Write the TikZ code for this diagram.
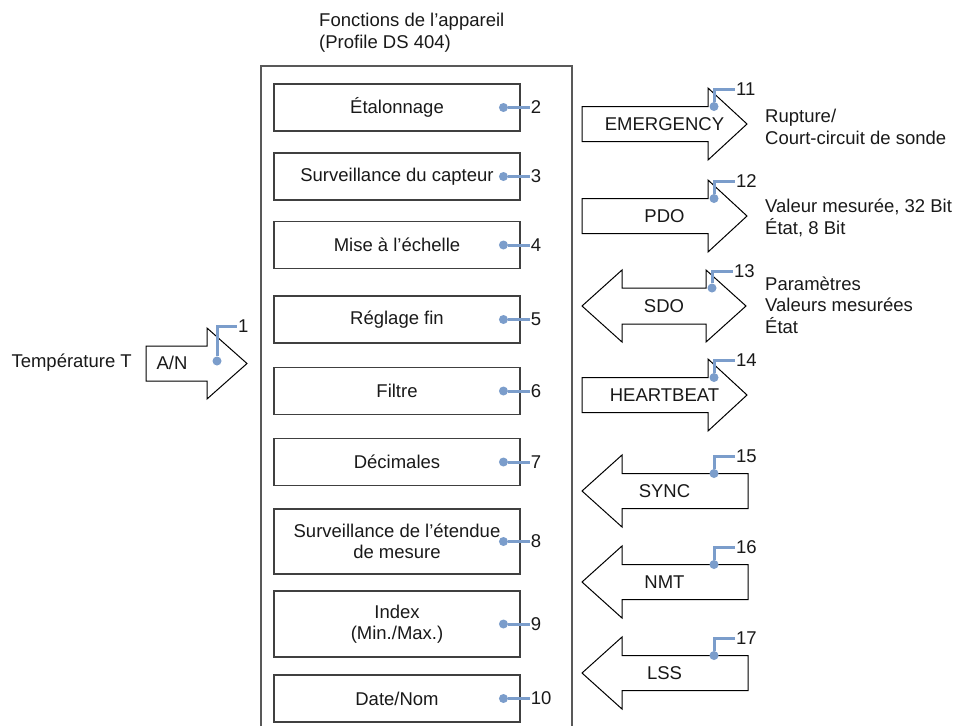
\documentclass[tikz,border=0pt]{standalone}
\usepackage{fontspec}
\setmainfont{Liberation Sans}
\usepackage{tikz}
\usetikzlibrary{positioning}
\definecolor{calloutblue}{RGB}{123,157,203}

\begin{document}
\begin{tikzpicture}[x=1pt, y=-1pt, font=\fontsize{18.5}{21.5}\selectfont, text=black!90]
        \tikzset{
           func/.style={
                        rectangle,
                        draw=black!75,
                        line width=1.3pt,
                        fill=none,
                        minimum width=246pt,
                        minimum height=47pt,
                        align=center,
                        inner sep=2pt
                       },
           flow/.style={draw=black, line width=1pt, fill=white},
           frame/.style={draw=black!65, line width=1.4pt},
           pin/.style={draw=calloutblue, line width=3pt},
           pindot/.style={circle, fill=calloutblue, inner sep=0pt, minimum size=9pt},
           num/.style={inner sep=1pt, anchor=west},
           side/.style={align=left, anchor=west, inner sep=0pt}
                 }
        \useasboundingbox (0,0) rectangle (957,726);
        %----------------
        \node[side] (title) at (319,32.5) {Fonctions de l’appareil\\(Profile DS 404)};
        \draw[frame] (261,726) |- (572,66) -- (572,726);
        \node[func] (calib) at (397,107.5) {Étalonnage};
        \node[func] (sensor) at (397,176.5) {Surveillance du capteur};
        \node[func] (scaling) at (397,245) {Mise à l’échelle};
        \node[func] (finetune) at (397,319.5) {Réglage fin};
        \node[func] (filter) at (397,391) {Filtre};
        \node[func] (decimals) at (397,462) {Décimales};
        \node[func, minimum height=65pt] (range) at (397,541.5) {Surveillance de l’étendue\\de mesure};
        \node[func, minimum height=66pt] (index) at (397,624) {Index\\(Min./Max.)};
        \node[func] (datename) at (397,698.5) {Date/Nom};
        %----------------
        \node[pindot] (d2) [left=12.5pt of calib.east] {};    \node[num] (n2) [right=9pt of calib] {2};
        \node[pindot] (d3) [left=12.5pt of sensor.east] {};   \node[num] (n3) [right=9pt of sensor] {3};
        \node[pindot] (d4) [left=12.5pt of scaling.east] {};  \node[num] (n4) [right=9pt of scaling] {4};
        \node[pindot] (d5) [left=12.5pt of finetune.east] {}; \node[num] (n5) [right=9pt of finetune] {5};
        \node[pindot] (d6) [left=12.5pt of filter.east] {};   \node[num] (n6) [right=9pt of filter] {6};
        \node[pindot] (d7) [left=12.5pt of decimals.east] {}; \node[num] (n7) [right=9pt of decimals] {7};
        \node[pindot] (d8) [left=12.5pt of range.east] {};    \node[num] (n8) [right=9pt of range] {8};
        \node[pindot] (d9) [left=12.5pt of index.east] {};    \node[num] (n9) [right=9pt of index] {9};
        \node[pindot] (d10) [left=12.5pt of datename.east] {}; \node[num] (n10) [right=9pt of datename] {10};
        %----------------
        \node[anchor=east, inner sep=0pt] (temp) at (132,363) {Température T};
        \draw[flow] (146,346) -- (207,346) -- (207,328) -- (247,363.5) -- (207,399) -- (207,381) -- (146,381) -- cycle;
        \node (adc) at (172,363) {A/N};
        \node[pindot] (d1) at (217,361) {};
        \node[num] (n1) at (237,326) {1};
        %----------------
        \draw[flow] (582,106.5) -- (708,106.5) -- (708,88) -- (747,124) -- (708,160) -- (708,141.5) -- (582,141.5) -- cycle;
        \node (emergency) at (664.5,124) {EMERGENCY};
        \node[pindot] (d11) at (714,106.5) {};
        \node[num] (n11) at (735,89) {11};
        \node[side] (emergencyInfo) at (765,127) {Rupture/\\Court-circuit de sonde};
        \draw[flow] (582,198.5) -- (708,198.5) -- (708,180) -- (747,216) -- (708,252) -- (708,233.5) -- (582,233.5) -- cycle;
        \node (pdo) at (664.5,216) {PDO};
        \node[pindot] (d12) at (714,198.5) {};
        \node[num] (n12) at (735,181) {12};
        \node[side] (pdoInfo) at (765,218) {Valeur mesurée, 32 Bit\\État, 8 Bit};
        \draw[flow] (582,306) -- (622,270) -- (622,288) -- (706,288) -- (706,270) -- (746,306) -- (706,342) -- (706,324) -- (622,324) -- (622,342) -- cycle;
        \node (sdo) at (664,306) {SDO};
        \node[pindot] (d13) at (712,288) {};
        \node[num] (n13) at (733,271) {13};
        \node[side] (sdoInfo) at (765,305) {Paramètres\\Valeurs mesurées\\État};
        \draw[flow] (582,377.5) -- (708,377.5) -- (708,359) -- (747,395) -- (708,431) -- (708,412.5) -- (582,412.5) -- cycle;
        \node (heartbeat) at (664.5,395) {HEARTBEAT};
        \node[pindot] (d14) at (714,377.5) {};
        \node[num] (n14) at (735,360) {14};
        \draw[flow] (582,491) -- (622,455) -- (622,473.5) -- (748,473.5) -- (748,508.5) -- (622,508.5) -- (622,527) -- cycle;
        \node (sync) at (664.5,491) {SYNC};
        \node[pindot] (d15) at (714,473.5) {};
        \node[num] (n15) at (735,456) {15};
        \draw[flow] (582,582) -- (622,546) -- (622,564.5) -- (748,564.5) -- (748,599.5) -- (622,599.5) -- (622,618) -- cycle;
        \node (nmt) at (664.5,582) {NMT};
        \node[pindot] (d16) at (714,564.5) {};
        \node[num] (n16) at (735,547) {16};
        \draw[flow] (582,673) -- (622,637) -- (622,655.5) -- (748,655.5) -- (748,690.5) -- (622,690.5) -- (622,709) -- cycle;
        \node (lss) at (664.5,673) {LSS};
        \node[pindot] (d17) at (714,655.5) {};
        \node[num] (n17) at (735,638) {17};
        %----------------
        \path[pin] (d2) edge (n2)
              (d3) edge (n3)
              (d4) edge (n4)
              (d5) edge (n5)
              (d6) edge (n6)
              (d7) edge (n7)
              (d8) edge (n8)
              (d9) edge (n9)
              (d10) edge (n10)
        ;
        \draw[pin] (d1) |- (n1);
        \draw[pin] (d11) |- (n11);
        \draw[pin] (d12) |- (n12);
        \draw[pin] (d13) |- (n13);
        \draw[pin] (d14) |- (n14);
        \draw[pin] (d15) |- (n15);
        \draw[pin] (d16) |- (n16);
        \draw[pin] (d17) |- (n17);
    \end{tikzpicture}
\end{document}
